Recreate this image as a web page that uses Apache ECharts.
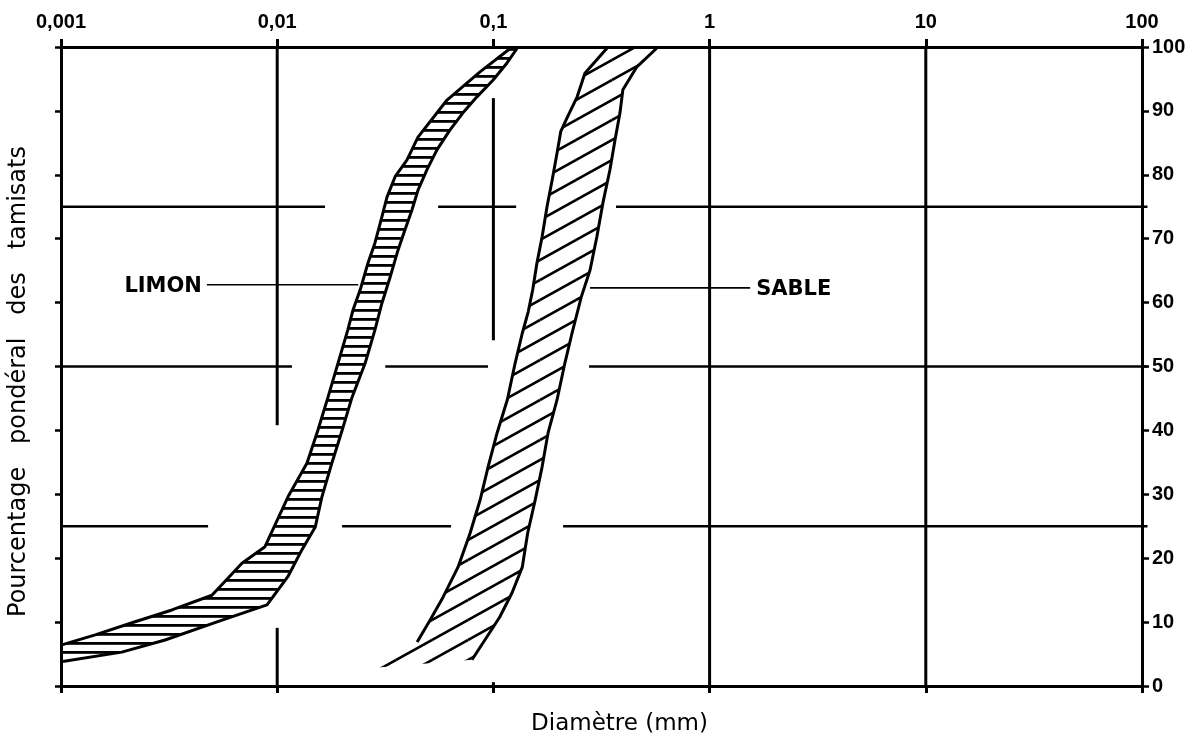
<!DOCTYPE html>
<html>
<head>
<meta charset="utf-8">
<script src="https://cdn.jsdelivr.net/npm/echarts@6/dist/echarts.min.js"></script>
<style>
html,body{margin:0;padding:0;background:#fff;}
#chart{width:1197px;height:744px;}
</style>
</head>
<body>
<div id="chart"></div>
<script>
// ---- data ----
const xTickLabels = ['0,001', '0,01', '0,1', '1', '10', '100'];
const yTickLabels = ['0', '10', '20', '30', '40', '50', '60', '70', '80', '90', '100'];

// LIMON band: fine-side (left) boundary and coarse-side (right) boundary, [diameter mm, % passing]
const limonFine = [
  [0.001, 6.4], [0.00144, 8.0], [0.00213, 9.9], [0.00326, 11.9], [0.00499, 14.2],
  [0.00687, 19.2], [0.00878, 21.8], [0.01122, 29.6], [0.01374, 34.9], [0.01545, 40.1],
  [0.01718, 45.2], [0.0191, 50.5], [0.0212, 55.7], [0.0224, 58.8], [0.0242, 62.0],
  [0.0263, 66.2], [0.0283, 69.3], [0.0305, 73.4], [0.0322, 76.5], [0.0351, 79.7],
  [0.0398, 82.3], [0.0448, 85.9], [0.0610, 91.7], [0.0867, 96.1], [0.122, 100]
];
const limonCoarse = [
  [0.001, 3.8], [0.00191, 5.3], [0.00303, 7.2], [0.00556, 10.3], [0.00897, 12.7],
  [0.0112, 17.1], [0.0130, 21.3], [0.0150, 24.9], [0.0161, 29.6], [0.0179, 34.9],
  [0.0200, 40.1], [0.0222, 45.2], [0.0255, 50.5], [0.0283, 55.7], [0.0305, 59.9],
  [0.0333, 64.0], [0.0362, 68.2], [0.0390, 71.4], [0.0420, 74.5], [0.0448, 77.6],
  [0.0493, 80.8], [0.0548, 83.9], [0.0629, 87.0], [0.0723, 89.7], [0.0839, 92.2],
  [0.0995, 94.8], [0.1156, 97.5], [0.130, 100]
];
const limonTail = [];

// SABLE band
const sableFine = [
  [0.0444, 6.9], [0.0509, 10.3], [0.0585, 13.9], [0.0686, 18.6], [0.0780, 23.9],
  [0.0868, 29.1], [0.0945, 34.3], [0.104, 39.6], [0.116, 44.8], [0.126, 50.5],
  [0.136, 55.2], [0.145, 58.6], [0.152, 62.0], [0.159, 66.2], [0.168, 70.3],
  [0.177, 75.0], [0.187, 79.2], [0.197, 83.4], [0.205, 86.8], [0.221, 89.2],
  [0.244, 92.2], [0.265, 95.9], [0.339, 100]
];
const sableCoarse = [
  [0.0796, 4.1], [0.0934, 7.7], [0.107, 10.8], [0.122, 14.6], [0.136, 18.6],
  [0.144, 23.9], [0.156, 29.1], [0.168, 34.3], [0.179, 39.6], [0.197, 44.8],
  [0.214, 50.5], [0.231, 55.2], [0.255, 60.9], [0.280, 65.1], [0.301, 70.3],
  [0.321, 75.6], [0.346, 80.8], [0.365, 85.4], [0.385, 89.7], [0.397, 93.3],
  [0.461, 96.9], [0.577, 100]
];
const sableTail = [[0.0274, 2.8]];

// partial grid segments [x1, y1, x2, y2]
const vGridSegments = [
  [0.01, 40.8, 0.01, 100], [0.01, 0, 0.01, 9.1],
  [0.1, 54.1, 0.1, 92.0], [0.1, 0, 0.1, 0.6],
  [1, 0, 1, 100], [10, 0, 10, 100]
];
const hGridSegments = [
  [0.001, 75, 0.01664, 75], [0.0555, 75, 0.1274, 75], [0.369, 75, 106, 75],
  [0.001, 50, 0.0117, 50], [0.0316, 50, 0.0944, 50], [0.277, 50, 106, 50],
  [0.001, 25, 0.00479, 25], [0.01995, 25, 0.0637, 25], [0.210, 25, 106, 25]
];

// labels with leader lines: [x start, x end, y]
const bandNames = ['LIMON', 'SABLE'];
const bandLeaders = [[0.00473, 0.0237, 62.8], [0.280, 1.54, 62.3]];
const bandLabelSide = ['left', 'right'];

// ---- hatch patterns ----
function stripePattern() {
  const c = document.createElement('canvas');
  c.width = 8; c.height = 9;
  const ctx = c.getContext('2d');
  ctx.fillStyle = '#000';
  ctx.fillRect(0, 3, 8, 2.8);
  return { image: c, repeat: 'repeat' };
}
function diagPattern() {
  const W = 36, H = 20;
  const c = document.createElement('canvas');
  c.width = W; c.height = H;
  const ctx = c.getContext('2d');
  ctx.strokeStyle = '#000';
  ctx.lineWidth = 2.6;
  for (let dx = -W; dx <= W; dx += W) {
    for (let dy = -H; dy <= H; dy += H) {
      ctx.beginPath();
      ctx.moveTo(dx, H + dy);
      ctx.lineTo(W + dx, dy);
      ctx.stroke();
    }
  }
  return { image: c, repeat: 'repeat' };
}

function bandSeries(name, fine, coarse, tail, pattern) {
  return {
    name: name,
    type: 'custom',
    xAxisIndex: 0,
    yAxisIndex: 0,
    data: [[fine[0][0], fine[0][1]]],
    z: 5,
    renderItem: function (params, api) {
      const f = fine.map(p => api.coord(p));
      const c = coarse.map(p => api.coord(p));
      const t = tail.map(p => api.coord(p));
      const poly = f.concat(c.slice().reverse()).concat(t);
      return {
        type: 'group',
        children: [
          { type: 'polygon', shape: { points: poly }, style: { fill: pattern, stroke: null } },
          { type: 'polyline', shape: { points: f }, style: { stroke: '#000', lineWidth: 3, fill: null, lineJoin: 'round' } },
          { type: 'polyline', shape: { points: c }, style: { stroke: '#000', lineWidth: 3, fill: null, lineJoin: 'round' } }
        ]
      };
    }
  };
}

function segmentSeries(segs, width) {
  return {
    type: 'custom',
    xAxisIndex: 0,
    yAxisIndex: 0,
    data: segs,
    z: 3,
    renderItem: function (params, api) {
      const a = api.coord([api.value(0), api.value(1)]);
      const b = api.coord([api.value(2), api.value(3)]);
      return { type: 'line', shape: { x1: a[0], y1: a[1], x2: b[0], y2: b[1] }, style: { stroke: '#000', lineWidth: width } };
    }
  };
}

const labelSeries = {
  type: 'custom',
  xAxisIndex: 0,
  yAxisIndex: 0,
  data: bandLeaders.map((l, i) => [l[0], l[2], l[1], i]),
  z: 6,
  renderItem: function (params, api) {
    const i = api.value(3);
    const a = api.coord([api.value(0), api.value(1)]);
    const b = api.coord([api.value(2), api.value(1)]);
    const left = bandLabelSide[i] === 'left';
    return {
      type: 'group',
      children: [
        { type: 'line', shape: { x1: a[0], y1: a[1], x2: b[0], y2: b[1] }, style: { stroke: '#000', lineWidth: 1.6 } },
        {
          type: 'text',
          x: left ? a[0] - 5 : b[0] + 6,
          y: a[1] + 2,
          style: {
            text: bandNames[i], fill: '#000',
            font: 'bold 21px "DejaVu Sans"',
            align: left ? 'right' : 'left', verticalAlign: 'middle'
          }
        }
      ]
    };
  }
};

const axisFont = { color: '#000', fontFamily: 'Liberation Sans', fontWeight: 'bold', fontSize: 20 };

const chart = echarts.init(document.getElementById('chart'), null, { renderer: 'canvas' });
chart.setOption({
  animation: false,
  backgroundColor: '#fff',
  grid: { left: 61, right: 55, top: 47, bottom: 58, containLabel: false, outerBoundsMode: 'none' },
  xAxis: [
    {
      type: 'log', logBase: 10, min: 0.001, max: 100, position: 'top',
      axisLine: { show: true, onZero: false, lineStyle: { color: '#000', width: 3 } },
      axisTick: { show: true, inside: false, length: 8, lineStyle: { color: '#000', width: 3 } },
      axisLabel: Object.assign({
        show: true, margin: 15,
        formatter: function (v) { return xTickLabels[Math.round(Math.log10(v)) + 3]; }
      }, axisFont),
      splitLine: { show: false }, minorTick: { show: false }, minorSplitLine: { show: false }
    },
    {
      type: 'log', logBase: 10, min: 0.001, max: 100, position: 'bottom',
      axisLine: { show: true, onZero: false, lineStyle: { color: '#000', width: 3 } },
      axisTick: { show: true, inside: false, length: 7, lineStyle: { color: '#000', width: 3 } },
      axisLabel: { show: false },
      splitLine: { show: false },
      name: 'Diamètre (mm)', nameLocation: 'middle', nameGap: 27,
      nameTextStyle: { color: '#000', fontFamily: 'DejaVu Sans', fontSize: 23, padding: [0, 0, 0, 36] }
    }
  ],
  yAxis: [
    {
      type: 'value', min: 0, max: 100, interval: 10, position: 'left',
      axisLine: { show: true, onZero: false, lineStyle: { color: '#000', width: 3 } },
      axisTick: { show: true, inside: false, length: 6, lineStyle: { color: '#000', width: 2.5 } },
      axisLabel: { show: false },
      splitLine: { show: false },
      name: 'Pourcentage   pondéral   des   tamisats', nameLocation: 'middle', nameRotate: 90, nameGap: 30,
      nameTextStyle: { color: '#000', fontFamily: 'DejaVu Sans', fontSize: 24, padding: [0, 30, 0, 0] }
    },
    {
      type: 'value', min: 0, max: 100, interval: 10, position: 'right',
      axisLine: { show: true, onZero: false, lineStyle: { color: '#000', width: 3 } },
      axisTick: { show: true, inside: false, length: 7, lineStyle: { color: '#000', width: 2.5 } },
      axisLabel: Object.assign({
        show: true, margin: 10,
        formatter: function (v) { return yTickLabels[Math.round(v / 10)]; }
      }, axisFont),
      splitLine: { show: false }
    }
  ],
  series: [
    segmentSeries(vGridSegments, 3),
    segmentSeries(hGridSegments, 2.6),
    bandSeries('LIMON', limonFine, limonCoarse, limonTail, stripePattern()),
    bandSeries('SABLE', sableFine, sableCoarse, sableTail, diagPattern()),
    labelSeries
  ]
});
</script>
</body>
</html>
